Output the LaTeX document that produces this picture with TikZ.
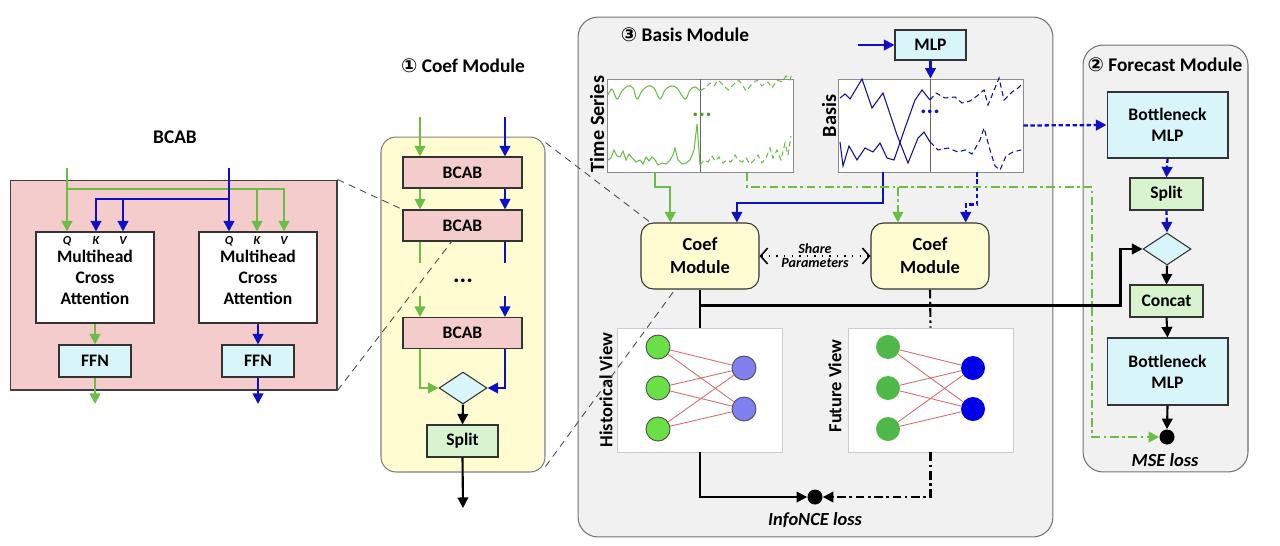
\documentclass[tikz,border=0pt]{standalone}
\usepackage{fontspec}
\setmainfont{Carlito}
\newfontfamily\circfont{DejaVu Sans}
\usetikzlibrary{arrows.meta,shapes.geometric,calc}

\definecolor{lgreen}{RGB}{106,190,70}
\definecolor{dblue}{RGB}{15,15,200}
\definecolor{bpink}{RGB}{244,204,204}
\definecolor{lcyan}{RGB}{216,245,250}
\definecolor{lgbox}{RGB}{216,244,206}
\definecolor{lyellow}{RGB}{255,252,210}
\definecolor{panelgray}{RGB}{241,241,241}
\definecolor{hgreen}{RGB}{104,224,70}
\definecolor{hblue}{RGB}{128,128,240}
\definecolor{fgreen}{RGB}{78,184,72}
\definecolor{fblue}{RGB}{0,0,232}
\definecolor{edgered}{RGB}{214,110,110}

\tikzset{
  txt/.style={font=\bfseries\fontsize{10}{12}\selectfont, align=center, inner sep=1pt},
  ttl/.style={font=\bfseries\fontsize{11}{13}\selectfont, inner sep=1pt},
  blk/.style={txt, draw=black!80, line width=0.6pt},
  pinkblk/.style={blk, fill=bpink},
  cyanblk/.style={blk, fill=lcyan},
  greenblk/.style={blk, fill=lgbox},
  coefblk/.style={blk, fill=lyellow, rounded corners=0.25cm, font=\bfseries\fontsize{10.5}{13}\selectfont},
  modpanel/.style={draw=black!55, line width=0.6pt, fill=panelgray, rounded corners=0.4cm},
  plotbox/.style={draw=black!45, fill=white, line width=0.5pt},
  viewbox/.style={draw=black!20, fill=white, line width=0.5pt},
  mergedia/.style={diamond, draw=black!80, fill=lcyan, line width=0.6pt, minimum width=0.96cm, minimum height=0.64cm, inner sep=0pt},
  qkv/.style={font=\bfseries\itshape\fontsize{7}{8}\selectfont, inner sep=0pt},
  arr/.style={-{Triangle[length=6pt,width=6pt]}},
  gln/.style={lgreen, line width=1.2pt},
  bln/.style={dblue, line width=1.2pt},
  kln/.style={black, line width=1.2pt},
  bdots/.style={dblue, line width=1.3pt, dash pattern=on 2.5pt off 1.5pt},
  gdd/.style={lgreen, line width=1.2pt, dash pattern=on 5pt off 2pt on 1.5pt off 2pt},
  kdd/.style={black, line width=1.2pt, dash pattern=on 5pt off 2pt on 1.5pt off 2pt},
  zoomln/.style={black!70, line width=0.5pt, dash pattern=on 4pt off 3pt},
  lossdot/.style={circle, fill=black, minimum size=0.3cm, inner sep=0pt},
  losslbl/.style={font=\bfseries\itshape\fontsize{10.5}{12}\selectfont, inner sep=1pt},
  hnode/.style={circle, draw=black!70, line width=0.5pt, minimum size=0.48cm, inner sep=0pt},
  fnode/.style={circle, minimum size=0.48cm, inner sep=0pt},
  viewlbl/.style={font=\bfseries\fontsize{10.5}{12}\selectfont, rotate=90, inner sep=0pt},
  redge/.style={edgered, line width=0.5pt},
  dotsymb/.style={font=\bfseries\fontsize{14}{14}\selectfont, inner sep=0pt},
}

\begin{document}
\begin{tikzpicture}[x=0.02cm, y=-0.02cm]
\useasboundingbox (0,0) rectangle (1280,545);

% ---------------- BCAB detail
\node[ttl] (bcabttl) at (175,137) {BCAB};
\node[draw=black!75, fill=bpink, line width=0.6pt, minimum width=6.54cm, minimum height=4.2cm] (bcabpanel) at (173.5,285) {};
\node[blk, fill=white, minimum width=2.36cm, minimum height=1.82cm] (mhL) at (95,277.5) {Multihead\\Cross\\Attention};
\node[blk, fill=white, minimum width=2.36cm, minimum height=1.82cm] (mhR) at (258,277.5) {Multihead\\Cross\\Attention};
\node[qkv] (qL) at (67,241) {Q};
\node[qkv] (kL) at (96,241) {K};
\node[qkv] (vL) at (123,241) {V};
\node[qkv] (qR) at (229,241) {Q};
\node[qkv] (kR) at (257,241) {K};
\node[qkv] (vR) at (284,241) {V};
\node[cyanblk, minimum width=1.44cm, minimum height=0.64cm] (ffnL) at (95,361) {FFN};
\node[cyanblk, minimum width=1.44cm, minimum height=0.64cm] (ffnR) at (258,361) {FFN};

\coordinate (gin) at (67,168);
\coordinate (bin) at (229,168);
\coordinate (gbus) at (67,189);
\coordinate (bbus) at (229,199);
\coordinate (goutL) at (95,404);
\coordinate (boutR) at (258,404);

\draw[gln, arr] (gin) -- (mhL.north -| qL);
\draw[gln, arr] (gbus) -| (mhR.north -| kR);
\draw[gln, arr] (gbus) -| (mhR.north -| vR);
\draw[bln, arr] (bin) -- (mhR.north -| qR);
\draw[bln, arr] (bbus) -| (mhL.north -| kL);
\draw[bln, arr] (bbus) -| (mhL.north -| vL);
\draw[gln, arr] (mhL.south) -- (ffnL.north);
\draw[bln, arr] (mhR.south) -- (ffnR.north);
\draw[gln, arr] (ffnL.south) -- (goutL);
\draw[bln, arr] (ffnR.south) -- (boutR);

% ---------------- (1) Coef module
\node[ttl] (coefttl) at (463,66) {{\circfont ①} Coef Module};
\node[draw=black!50, fill=lyellow, rounded corners=0.3cm, line width=0.6pt, minimum width=3.28cm, minimum height=6.7cm] (coefpanel) at (463,304.5) {};
\node[pinkblk, minimum width=2.38cm, minimum height=0.62cm] (bcab1) at (462.5,172.5) {BCAB};
\node[pinkblk, minimum width=2.38cm, minimum height=0.62cm] (bcab2) at (462.5,225.5) {BCAB};
\node[pinkblk, minimum width=2.38cm, minimum height=0.62cm] (bcab3) at (462.5,333) {BCAB};
\node[dotsymb] (cdots) at (463,281) {...};
\node[mergedia] (cdia) at (463,388) {};
\node[greenblk, minimum width=1.42cm, minimum height=0.64cm] (csplit) at (462.5,441) {Split};

\coordinate (cg) at (420,117);
\coordinate (cb) at (505,117);
\coordinate (gapT) at (463,263);
\coordinate (gapB) at (463,296);
\coordinate (cout) at (463,508);

\draw[gln, arr] (cg) -- (bcab1.north -| cg);
\draw[bln, arr] (cb) -- (bcab1.north -| cb);
\draw[gln, arr] (bcab1.south -| cg) -- (bcab2.north -| cg);
\draw[bln, arr] (bcab1.south -| cb) -- (bcab2.north -| cb);
\draw[gln] (bcab2.south -| cg) -- (gapT -| cg);
\draw[bln] (bcab2.south -| cb) -- (gapT -| cb);
\draw[gln, arr] (gapB -| cg) -- (bcab3.north -| cg);
\draw[bln, arr] (gapB -| cb) -- (bcab3.north -| cb);
\draw[gln, arr] (bcab3.south -| cg) |- (cdia.west);
\draw[bln, arr] (bcab3.south -| cb) |- (cdia.east);
\draw[kln, arr] (cdia.south) -- (csplit.north);
\draw[kln, arr] (csplit.south) -- (cout);

% ---------------- (3) Basis module
\node[modpanel, minimum width=9.5cm, minimum height=10.4cm] (basispanel) at (815.5,277) {};
\node[ttl] (basisttl) at (685,35) {{\circfont ③} Basis Module};
\node[plotbox, minimum width=3.72cm, minimum height=1.86cm] (ts) at (700,125.5) {};
\node[plotbox, minimum width=3.7cm, minimum height=1.86cm] (basis) at (930.5,125.5) {};
\node[viewlbl, font=\bfseries\fontsize{11.5}{13}\selectfont] (tslbl) at (597,124) {Time Series};
\node[viewlbl, font=\bfseries\fontsize{11.5}{13}\selectfont] (basislbl) at (829,116) {Basis};
\draw[black!60, line width=0.5pt] (ts.north) -- (ts.south);
\draw[black!60, line width=0.5pt] (basis.north) -- (basis.south);

% series curves
\draw[lgreen, line width=0.6pt] plot[smooth, tension=0.6] coordinates {(608,95) (612,89) (617,99) (622,91) (628,86) (633,88) (637,99) (642,91) (648,86) (654,88) (660,99) (665,90) (671,86) (677,88) (685,99) (690,90) (695,87) (700,91)};
\draw[lgreen, line width=0.6pt, densely dashed] plot coordinates {(700,91) (705,88) (710,83) (714,86) (718,80) (722,84) (728,90) (733,85) (738,80) (742,84) (746,91) (752,84) (757,80) (762,86) (768,82) (772,88) (777,80) (782,82) (786,76) (790,80) (792,73)};
\draw[lgreen, line width=0.6pt] plot coordinates {(608,160) (611,158) (614,150) (617,156) (620,157) (623,151) (626,160) (629,154) (632,158) (636,162) (640,160) (643,164) (646,157) (649,161) (652,157) (655,160) (658,165) (662,163) (666,164) (670,160) (673,155) (675,148) (678,160) (682,164) (686,163) (690,160) (694,150) (697,124) (700,165)};
\draw[lgreen, line width=0.6pt, densely dashed] plot coordinates {(700,165) (704,160) (708,162) (712,156) (715,161) (719,157) (723,163) (727,160) (731,162) (735,155) (738,160) (742,162) (746,158) (750,164) (754,160) (758,155) (762,163) (766,158) (770,148) (773,158) (777,150) (781,160) (785,143) (788,155) (791,136)};
\draw[dblue!80!black, line width=0.6pt] plot coordinates {(840,98) (845,94) (850,99) (862,79) (872,108) (883,93) (897,135) (908,163) (918,138) (924,132) (930,142)};
\draw[dblue!80!black, line width=0.6pt] plot coordinates {(840,142) (843,166) (849,146) (857,160) (865,148) (873,152) (880,143) (887,158) (894,160) (905,128) (915,100) (922,90) (930,100)};
\draw[dblue!80!black, line width=0.6pt, densely dashed] plot coordinates {(930,100) (936,93) (945,98) (955,97) (962,103) (970,101) (977,96) (984,90) (988,105) (995,88) (999,78) (1004,100) (1012,92) (1018,88) (1021,85)};
\draw[dblue!80!black, line width=0.6pt, densely dashed] plot coordinates {(930,142) (938,150) (948,148) (958,152) (965,150) (972,154) (980,140) (984,128) (990,150) (995,166) (1000,170) (1006,156) (1013,152) (1021,150)};
\node[dotsymb, text=lgreen!80!black] (tsdots) at (702,115) {...};
\node[dotsymb, text=dblue] (basisdots) at (930,112) {...};

\node[cyanblk, minimum width=1.42cm, minimum height=0.6cm] (mlp) at (930.5,45) {MLP};
\coordinate (mlpin) at (858,45);
\draw[bln, arr] (mlpin) -- (mlp.west);
\draw[bln, arr] (mlp.south) -- (basis.north);

\node[coefblk, minimum width=2.36cm, minimum height=1.32cm] (coef1) at (700,256) {Coef\\Module};
\node[coefblk, minimum width=2.36cm, minimum height=1.32cm] (coef2) at (930,256) {Coef\\Module};
\draw[black, line width=0.9pt, dash pattern=on 0.8pt off 3.5pt, {Straight Barb[length=4pt,width=9pt]}-{Straight Barb[length=4pt,width=9pt]}] (coef1.east) -- (coef2.west)
  node[midway, above=1pt, qkv, font=\bfseries\itshape\fontsize{8}{9}\selectfont] (sharelbl) {Share}
  node[midway, below=1pt, qkv, font=\bfseries\itshape\fontsize{8}{9}\selectfont] (paramlbl) {Parameters};

% inputs of the two coef modules
\coordinate (tsA) at ($(ts.south west)!0.258!(ts.south east)$);
\coordinate (tsB) at ($(ts.south west)!0.753!(ts.south east)$);
\coordinate (bsA) at ($(basis.south west)!0.243!(basis.south east)$);
\coordinate (bsB) at ($(basis.south west)!0.75!(basis.south east)$);
\coordinate (c1g) at ($(coef1.north west)!0.25!(coef1.north east)$);
\coordinate (c1b) at ($(coef1.north west)!0.81!(coef1.north east)$);
\coordinate (c2g) at ($(coef2.north west)!0.23!(coef2.north east)$);
\coordinate (c2b) at ($(coef2.north west)!0.8!(coef2.north east)$);
\coordinate (gturn) at (1092,187);

\draw[gln, arr] (tsA) -- ++(0,15) -| (c1g);
\draw[bln, arr] (bsA) -- ++(0,31) -| (c1b);
\draw[bdots, arr] (bsB) |- ($(c2b)+(0,-18)$) -- (c2b);

% views
\node[viewbox, minimum width=3.3cm, minimum height=2.48cm] (hist) at (700,390) {};
\node[viewbox, minimum width=3.3cm, minimum height=2.48cm] (fut) at (930.5,390) {};
\node[viewlbl] (histlbl) at (606,390) {Historical View};
\node[viewlbl] (futlbl) at (835,386) {Future View};

\node[hnode, fill=hgreen] (h1) at (658,347) {};
\node[hnode, fill=hgreen] (h2) at (658,388) {};
\node[hnode, fill=hgreen] (h3) at (658,429) {};
\node[hnode, fill=hblue] (h4) at (744,368) {};
\node[hnode, fill=hblue] (h5) at (744,409) {};
\node[fnode, fill=fgreen] (f1) at (888,347) {};
\node[fnode, fill=fgreen] (f2) at (888,388) {};
\node[fnode, fill=fgreen] (f3) at (888,429) {};
\node[fnode, fill=fblue] (f4) at (973,368) {};
\node[fnode, fill=fblue] (f5) at (973,409) {};
\foreach \a in {h1,h2,h3}{
  \foreach \b in {h4,h5}{
    \draw[redge] (\a) -- (\b);
  }
}
\foreach \a in {f1,f2,f3}{
  \foreach \b in {f4,f5}{
    \draw[redge] (\a) -- (\b);
  }
}

\node[lossdot] (nce) at (815,497) {};
\node[losslbl] (ncelbl) at (815,520) {InfoNCE loss};

\draw[kln] (coef1.south) -- (hist.north);
\draw[kdd] (coef2.south) -- (fut.north);
\draw[kln, arr] (hist.south) |- (nce.west);
\draw[kdd, arr] (fut.south) |- (nce.east);

% ---------------- (2) Forecast module
\node[modpanel, minimum width=3.3cm, minimum height=8.54cm] (fcpanel) at (1165.5,258.5) {};
\node[ttl] (fcttl) at (1165,65) {{\circfont ②} Forecast Module};
\node[cyanblk, minimum width=2.42cm, minimum height=1.32cm] (bmlp1) at (1167.5,125) {Bottleneck\\MLP};
\node[greenblk, minimum width=1.46cm, minimum height=0.64cm] (fsplit) at (1166.5,194) {Split};
\node[mergedia] (fdia) at (1167,249) {};
\node[greenblk, minimum width=1.46cm, minimum height=0.64cm] (concat) at (1166.5,301) {Concat};
\node[cyanblk, minimum width=2.42cm, minimum height=1.34cm] (bmlp2) at (1167.5,371.5) {Bottleneck\\MLP};
\node[lossdot] (mse) at (1167,437) {};
\node[losslbl] (mselbl) at (1165,460) {MSE loss};

\draw[bdots, arr] (basis.east) -- (bmlp1.west);
\draw[bdots, arr] (bmlp1.south) -- (fsplit.north);
\draw[bdots, arr] (fsplit.south) -- (fdia.north);
\draw[kln, arr] (fdia.south) -- (concat.north);
\draw[kln, arr] (concat.south) -- (bmlp2.north);
\draw[kln, arr] (bmlp2.south) -- (mse.north);

% long connectors across modules
\coordinate (kbus) at ($(coef1.south)+(0,16)$);
\draw[kln, arr] (kbus) -| ($(fdia.west)+(-22,0)$) -- (fdia.west);
\draw[gdd, arr] (tsB) |- (gturn) |- (mse.west);
\draw[gdd, arr] (c2g |- gturn) -- (c2g);

% zoom guides
\draw[zoomln] (bcabpanel.north east) -- (bcab2.north west);
\draw[zoomln] (bcabpanel.south east) -- ($(bcab2.south west)!0.41!(bcab2.south east)$);
\draw[zoomln] ($(coefpanel.north east)+(0,6)$) -- ($(coef1.north west)+(10,0)$);
\draw[zoomln] ($(coefpanel.south east)+(0,-6)$) -- ($(coef1.south west)!0.29!(coef1.south east)$);
\end{tikzpicture}
\end{document}
